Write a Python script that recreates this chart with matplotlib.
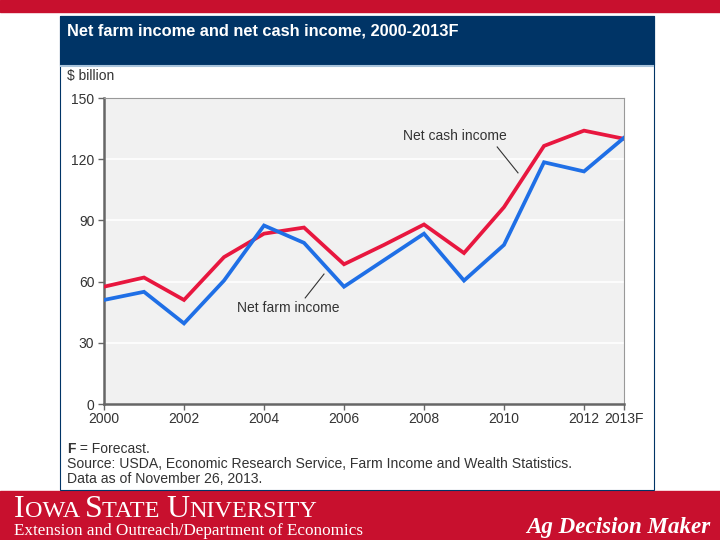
import matplotlib.pyplot as plt
from matplotlib.patches import Rectangle
from matplotlib.lines import Line2D

# data ($ billion)
years = [2000, 2001, 2002, 2003, 2004, 2005, 2006, 2007, 2008, 2009, 2010, 2011, 2012, 2013]
net_cash_income = [57.5, 62, 51, 72, 83.5, 86.5, 68.5, 78, 88, 74, 96.5, 126.5, 134, 130]
net_farm_income = [51, 55, 39.5, 60.5, 87.5, 79, 57.5, 70.5, 83.5, 60.5, 78, 118.5, 114, 130.5]
xticks = [2000, 2002, 2004, 2006, 2008, 2010, 2012, 2013]
xtick_labels = ['2000', '2002', '2004', '2006', '2008', '2010', '2012', '2013F']
yticks = [0, 30, 60, 90, 120, 150]

W, H = 720, 540
RED = '#c8102e'
NAVY = '#003466'
SANS = 'Liberation Sans'
SERIF = 'Liberation Serif'


def fx(x):
    return x / W


def fy(y):
    return 1 - y / H


fig = plt.figure(figsize=(7.2, 5.4), dpi=100)
fig.patch.set_facecolor('white')
renderer = fig.canvas.get_renderer()

# top band and footer band
fig.add_artist(Rectangle((0, fy(12)), 1, 12 / H, transform=fig.transFigure, color=RED, zorder=0))
fig.add_artist(Rectangle((0, 0), 1, fy(491), transform=fig.transFigure, color=RED, zorder=0))

# chart box
fig.add_artist(Rectangle((fx(60), fy(490)), fx(594), (490 - 16) / H, transform=fig.transFigure,
                         facecolor='white', edgecolor=NAVY, lw=0.8, zorder=1))
fig.add_artist(Rectangle((fx(60), fy(65)), fx(594), 49 / H, transform=fig.transFigure,
                         facecolor=NAVY, edgecolor=NAVY, lw=0.8, zorder=2))
fig.add_artist(Line2D([fx(61), fx(653)], [fy(66), fy(66)], transform=fig.transFigure,
                      color='#a9c4dc', lw=1.5, zorder=2))

fig.text(fx(67), fy(31), 'Net farm income and net cash income, 2000-2013F', color='white',
         fontsize=11.8, fontweight='bold', family=SANS, va='center', ha='left', zorder=3)
fig.text(fx(67), fy(76), '$ billion', color='#333333', fontsize=10, family=SANS,
         va='center', ha='left', zorder=3)

ax = fig.add_axes([fx(104), fy(404), fx(520), 306 / H])
ax.set_zorder(3)
ax.set_facecolor('#f1f1f1')
ax.plot(years, net_cash_income, color='#e8173f', lw=2.7, solid_joinstyle='miter', zorder=3)
ax.plot(years, net_farm_income, color='#1f6fe6', lw=2.7, solid_joinstyle='miter', zorder=4)
ax.set_xlim(2000, 2013)
ax.set_ylim(0, 150)
ax.set_xticks(xticks)
ax.set_xticklabels(xtick_labels)
ax.set_yticks(yticks)
for y in yticks[1:-1]:
    ax.axhline(y, color='white', lw=1.2, zorder=1)
for s in ['top', 'right']:
    ax.spines[s].set_color('#999999')
    ax.spines[s].set_linewidth(0.8)
for s in ['left', 'bottom']:
    ax.spines[s].set_color('#666666')
    ax.spines[s].set_linewidth(1.8)
ax.tick_params(axis='both', direction='out', length=4, width=1, color='#666666',
               labelcolor='#333333', labelsize=10)
ax.tick_params(axis='y', pad=3)
ax.tick_params(axis='x', pad=2)
for lab in ax.get_xticklabels() + ax.get_yticklabels():
    lab.set_family(SANS)

# series labels with leader lines
ax.text(2008.78, 131.5, 'Net cash income', fontsize=10, family=SANS, color='#333333',
        ha='center', va='center')
ax.plot([2009.83, 2010.35], [126, 113.3], color='#333333', lw=0.8, zorder=5)
ax.text(2004.6, 47, 'Net farm income', fontsize=10, family=SANS, color='#333333',
        ha='center', va='center')
ax.plot([2005.03, 2005.5], [52, 63.7], color='#333333', lw=0.8, zorder=5)

# footnotes
f = fig.text(fx(67), fy(449), 'F', fontsize=10, family=SANS, fontweight='bold',
             color='#333333', va='center', zorder=3)
fw = f.get_window_extent(renderer).width
fig.text(fx(67) + fw / W, fy(449), ' = Forecast.', fontsize=10, family=SANS, color='#333333',
         va='center', zorder=3)
fig.text(fx(67), fy(464), 'Source: USDA, Economic Research Service, Farm Income and Wealth Statistics.',
         fontsize=10.1, family=SANS, color='#333333', va='center', zorder=3)
fig.text(fx(67), fy(479), 'Data as of November 26, 2013.', fontsize=10.1, family=SANS,
         color='#333333', va='center', zorder=3)

# footer: small caps university name
x = fx(14)
for piece, size in [('I', 23), ('OWA ', 17.5), ('S', 23), ('TATE ', 17.5), ('U', 23), ('NIVERSITY', 17.5)]:
    t = fig.text(x, fy(517), piece, fontsize=size, family=SERIF, color='white',
                 va='baseline', ha='left', zorder=3)
    x += t.get_window_extent(renderer).width / W

fig.text(fx(14), fy(535), 'Extension and Outreach/Department of Economics', fontsize=12.3,
         family=SERIF, color='white', va='baseline', ha='left', zorder=3)
fig.text(fx(710), fy(533), 'Ag Decision Maker', fontsize=16.6, family=SERIF, style='italic',
         fontweight='bold', color='white', va='baseline', ha='right', zorder=3)

fig.savefig('out.png', dpi=100)
